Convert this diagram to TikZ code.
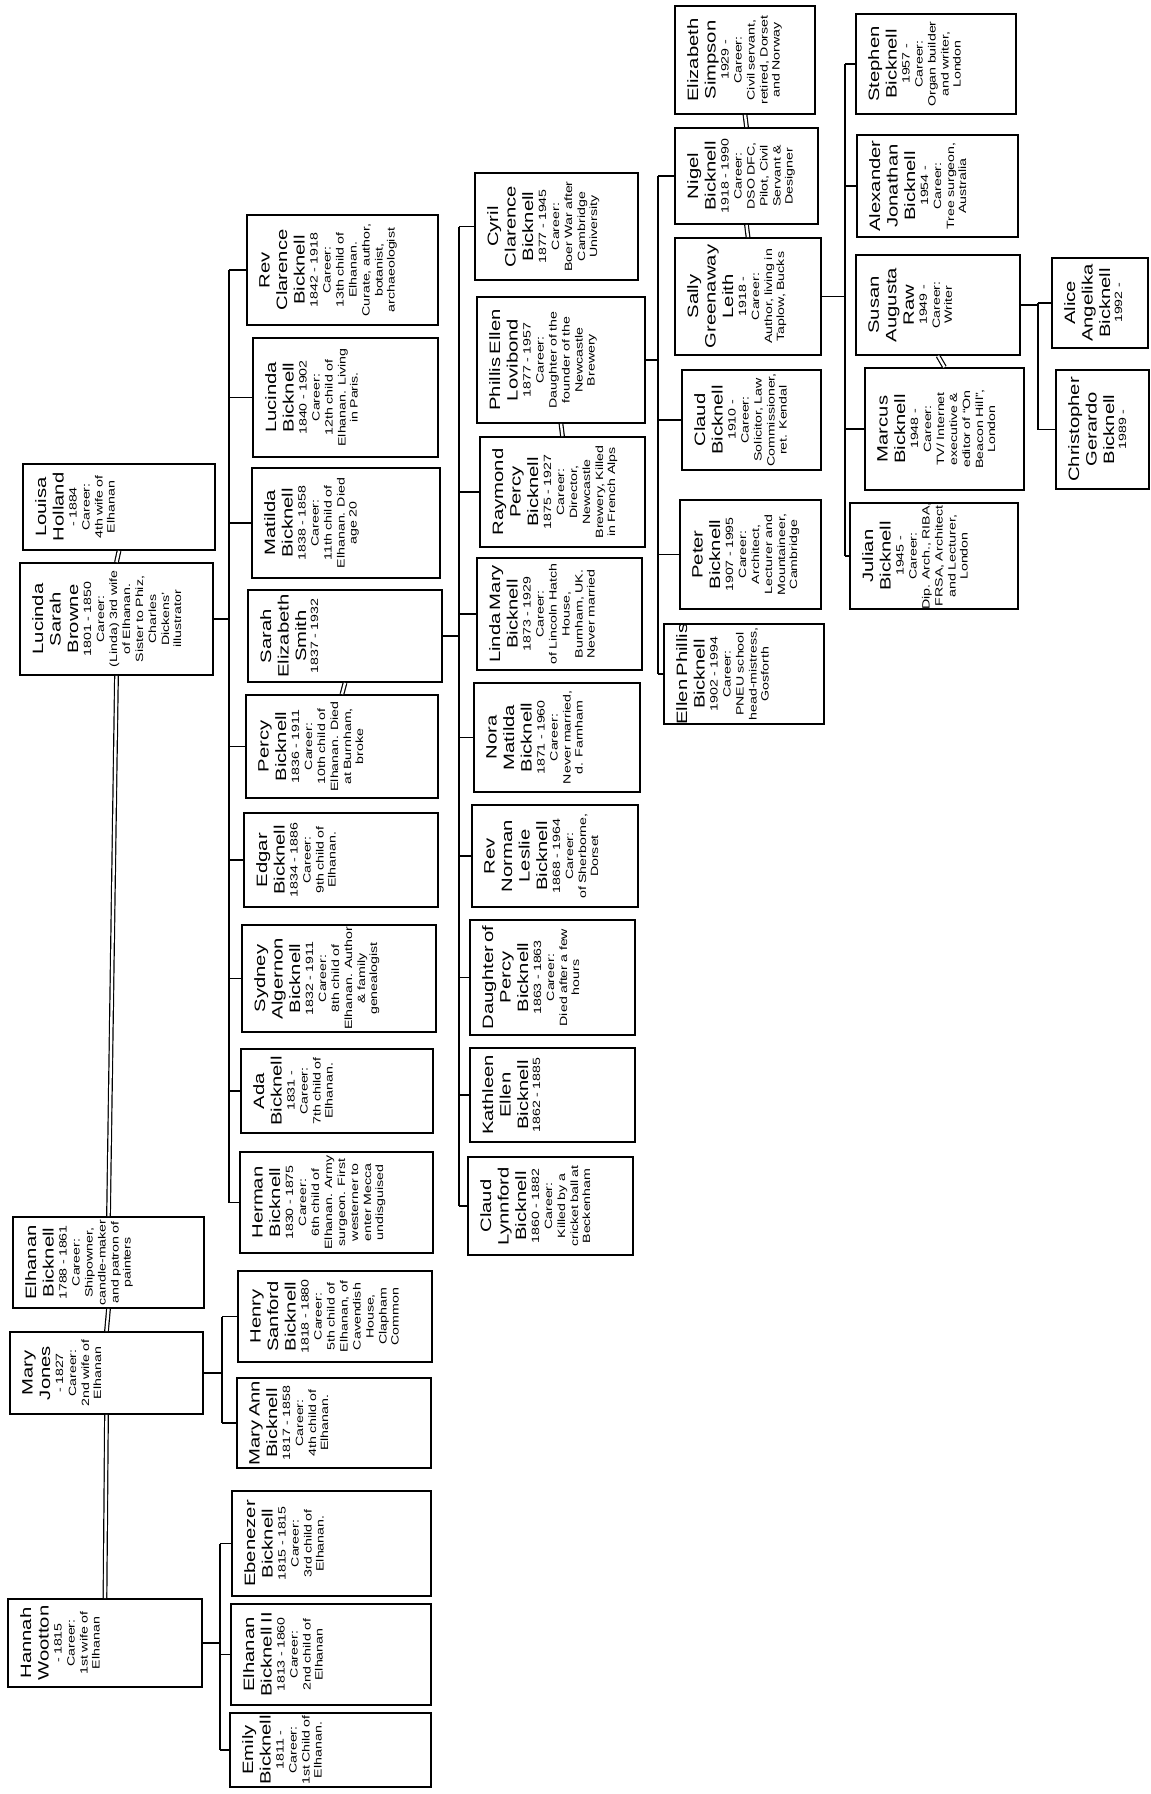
\documentclass[tikz,border=0pt]{standalone}
\usepackage{fontspec}
\setmainfont{Liberation Sans}[FakeStretch=1.35]
\usepackage{tikz}
\usetikzlibrary{fit}

\newcommand{\namefont}{\fontsize{15}{17.5}\selectfont}
\newcommand{\detailfont}{\fontsize{10.5}{13}\selectfont}
% one person: box from two corners, rotated text at its left side
\newcommand{\person}[5]{%
	\node[pbox, fit={#2 #3}] (#1) {};
	\node[ptext] (#1txt) at (#1.west) {\namefont #4\par\detailfont #5};
}

\begin{document}
\begin{tikzpicture}[x=1pt, y=-1pt,
		pbox/.style={draw, line width=1.8pt, inner sep=0pt},
		ptext/.style={rotate=90, anchor=north, text width=130pt, align=center, inner xsep=0pt, inner ysep=13pt},
		conn/.style={line width=1.3pt},
		wed/.style={double, double distance=2.4pt, line width=1.2pt}]
			\fill[white] (0,0) rectangle (1151,1794);
			\useasboundingbox (0,0) rectangle (1151,1794);
			% Elhanan and his four wives
			\person{louisa}{(23,464)}{(215,550)}{Louisa\\Holland}{- 1884\\Career:\\4th wife of\\Elhanan}
			\person{lsb}{(20,563)}{(213,675)}{Lucinda\\Sarah\\Browne}{1801 - 1850\\Career:\\(Linda) 3rd wife\\of Elhanan.\\Sister to Phiz,\\Charles\\Dickens'\\illustrator}
			\person{elhanan}{(13,1217)}{(204,1308)}{Elhanan\\Bicknell}{1788 - 1861\\Career:\\Shipowner,\\candle-maker\\and patron of\\painters}
			\person{maryjones}{(10,1332)}{(203,1414)}{Mary\\Jones}{- 1827\\Career:\\2nd wife of\\Elhanan}
			\person{hannah}{(8,1599)}{(202,1687)}{Hannah\\Wootton}{- 1815\\Career:\\1st wife of\\Elhanan}
			% children of Elhanan
			\person{clarence}{(247,215)}{(438,325)}{Rev\\Clarence\\Bicknell}{1842 - 1918\\Career:\\13th child of\\Elhanan.\\Curate, author,\\botanist,\\archaeologist}
			\person{lucinda}{(253,338)}{(438,457)}{Lucinda\\Bicknell}{1840 - 1902\\Career:\\12th child of\\Elhanan. Living\\in Paris.}
			\person{matilda}{(252,468)}{(440,578)}{Matilda\\Bicknell}{1838 - 1858\\Career:\\11th child of\\Elhanan. Died\\age 20}
			\person{sarah}{(248,590)}{(442,682)}{Sarah\\Elizabeth\\Smith}{1837 - 1932}
			\person{percy}{(246,695)}{(438,798)}{Percy\\Bicknell}{1836 - 1911\\Career:\\10th child of\\Elhanan. Died\\at Burnham,\\broke}
			\person{edgar}{(244,813)}{(438,907)}{Edgar\\Bicknell}{1834 - 1886\\Career:\\9th child of\\Elhanan.}
			\person{sydney}{(242,925)}{(436,1032)}{Sydney\\Algernon\\Bicknell}{1832 - 1911\\Career:\\8th child of\\Elhanan. Author\\\& family\\genealogist}
			\person{ada}{(241,1049)}{(433,1133)}{Ada\\Bicknell}{1831 -\\Career:\\7th child of\\Elhanan.}
			\person{herman}{(240,1152)}{(433,1253)}{Herman\\Bicknell}{1830 - 1875\\Career:\\6th child of\\Elhanan. Army\\surgeon. First\\westerner to\\enter Mecca\\undisguised}
			\person{henry}{(238,1271)}{(432,1362)}{Henry\\Sanford\\Bicknell}{1818 - 1880\\Career:\\5th child of\\Elhanan, of\\Cavendish\\House,\\Clapham\\Common}
			\person{maryann}{(237,1378)}{(431,1468)}{Mary Ann\\Bicknell}{1817 - 1858\\Career:\\4th child of\\Elhanan.}
			\person{ebenezer}{(232,1491)}{(431,1596)}{Ebenezer\\Bicknell}{1815 - 1815\\Career:\\3rd child of\\Elhanan.}
			\person{elhanantwo}{(231,1604)}{(431,1705)}{Elhanan\\Bicknell II}{1813 - 1860\\Career:\\2nd child of\\Elhanan}
			\person{emily}{(230,1713)}{(431,1787)}{Emily\\Bicknell}{1811 -\\Career:\\1st Child of\\Elhanan.}
			% children of Percy and Sarah
			\person{cyril}{(475,173)}{(638,280)}{Cyril\\Clarence\\Bicknell}{1877 - 1945\\Career:\\Boer War after\\Cambridge\\University}
			\person{phillis}{(477,297)}{(645,423)}{Phillis Ellen\\Lovibond}{1877 - 1957\\Career:\\Daughter of the\\founder of the\\Newcastle\\Brewery}
			\person{raymond}{(480,437)}{(645,547)}{Raymond\\Percy\\Bicknell}{1875 - 1927\\Career:\\Director,\\Newcastle\\Brewery, Killed\\in French Alps}
			\person{linda}{(477,558)}{(642,670)}{Linda Mary\\Bicknell}{1873 - 1929\\Career:\\of Lincoln Hatch\\House,\\Burnham, UK.\\Never married}
			\person{nora}{(474,683)}{(640,792)}{Nora\\Matilda\\Bicknell}{1871 - 1960\\Career:\\Never married,\\d. Farnham}
			\person{norman}{(472,805)}{(638,907)}{Rev\\Norman\\Leslie\\Bicknell}{1868 - 1964\\Career:\\of Sherborne,\\Dorset}
			\person{daughter}{(470,920)}{(635,1035)}{Daughter of\\Percy\\Bicknell}{1863 - 1863\\Career:\\Died after a few\\hours}
			\person{kathleen}{(470,1048)}{(635,1142)}{Kathleen\\Ellen\\Bicknell}{1862 - 1885}
			\person{claudl}{(468,1157)}{(633,1255)}{Claud\\Lynnford\\Bicknell}{1860 - 1882\\Career:\\Killed by a\\cricket ball at\\Beckenham}
			% children of Raymond and Phillis
			\person{elizabeth}{(675,6)}{(815,114)}{Elizabeth\\Simpson}{1929 -\\Career:\\Civil servant,\\retired, Dorset\\and Norway}
			\person{nigel}{(675,128)}{(818,224)}{Nigel\\Bicknell}{1918 - 1990\\Career:\\DSO DFC,\\Pilot, Civil\\Servant \&\\Designer}
			\person{sally}{(675,238)}{(821,355)}{Sally\\Greenaway\\Leith}{1918 -\\Career:\\Author, living in\\Taplow, Bucks}
			\person{claud}{(682,370)}{(821,470)}{Claud\\Bicknell}{1910 -\\Career:\\Solicitor, Law\\Commissioner,\\ret. Kendal}
			\person{peter}{(680,500)}{(821,609)}{Peter\\Bicknell}{1907 - 1995\\Career:\\Architect,\\Lecturer and\\Mountaineer,\\Cambridge}
			\person{ellen}{(664,624)}{(824,724)}{Ellen Phillis\\Bicknell}{1902 - 1994\\Career:\\PNEU school\\head-mistress,\\Gosforth}
			% children of Nigel and Sally
			\person{stephen}{(856,14)}{(1016,114)}{Stephen\\Bicknell}{1957 -\\Career:\\Organ builder\\and writer,\\London}
			\person{alexander}{(857,135)}{(1018,237)}{Alexander\\Jonathan\\Bicknell}{1954 -\\Career:\\Tree surgeon,\\Australia}
			\person{susan}{(856,255)}{(1020,355)}{Susan\\Augusta\\Raw}{1949 -\\Career:\\Writer}
			\person{marcus}{(865,368)}{(1024,490)}{Marcus\\Bicknell}{1948 -\\Career:\\TV/ Internet\\executive \&\\editor of ``On\\Beacon Hill'',\\London}
			\person{julian}{(850,503)}{(1018,609)}{Julian\\Bicknell}{1945 -\\Career:\\Dip. Arch., RIBA,\\FRSA, Architect\\and Lecturer,\\London}
			% children of Marcus and Susan
			\person{alice}{(1052,258)}{(1148,348)}{Alice\\Angelika\\Bicknell}{1992 -}
			\person{christopher}{(1056,370)}{(1149,489)}{Christopher\\Gerardo\\Bicknell}{1989 -}
			% marriages
			\draw[wed] (louisa.south) -- (lsb.north);
			\draw[wed] (lsb.south) -- (elhanan.north);
			\draw[wed] (elhanan.south) -- (maryjones.north);
			\draw[wed] (maryjones.south) -- (hannah.north);
			\draw[wed] (sarah.south) -- (percy.north);
			\draw[wed] (phillis.south) -- (raymond.north);
			\draw[wed] (elizabeth.south) -- (nigel.north);
			\draw[wed] (nigel.south) -- (sally.north);
			\draw[wed] (susan.south) -- (marcus.north);
			% brackets
			\coordinate (brlsb) at (229,0);
			\coordinate (brmary) at (222,0);
			\coordinate (brhannah) at (220,0);
			\coordinate (brpercy) at (459,0);
			\coordinate (brraymond) at (658,0);
			\coordinate (brnigel) at (845,0);
			\coordinate (brmarcus) at (1038,0);
			\foreach \c in {clarence,lucinda,matilda,percy,edgar,sydney,ada,herman}
				\draw[conn] (\c.west) -- (\c.west -| brlsb);
			\draw[conn] (clarence.west -| brlsb) -- (herman.west -| brlsb);
			\draw[conn] (lsb.east) -- (lsb.east -| brlsb);
			\foreach \c in {henry,maryann}
				\draw[conn] (\c.west) -- (\c.west -| brmary);
			\draw[conn] (henry.west -| brmary) -- (maryann.west -| brmary);
			\draw[conn] (maryjones.east) -- (maryjones.east -| brmary);
			\foreach \c in {ebenezer,elhanantwo,emily}
				\draw[conn] (\c.west) -- (\c.west -| brhannah);
			\draw[conn] (ebenezer.west -| brhannah) -- (emily.west -| brhannah);
			\draw[conn] (hannah.east) -- (hannah.east -| brhannah);
			\foreach \c in {cyril,raymond,linda,nora,norman,daughter,kathleen,claudl}
				\draw[conn] (\c.west) -- (\c.west -| brpercy);
			\draw[conn] (cyril.west -| brpercy) -- (claudl.west -| brpercy);
			\draw[conn] (sarah.east) -- (sarah.east -| brpercy);
			\foreach \c in {nigel,claud,peter,ellen}
				\draw[conn] (\c.west) -- (\c.west -| brraymond);
			\draw[conn] (nigel.west -| brraymond) -- (ellen.west -| brraymond);
			\draw[conn] (phillis.east) -- (phillis.east -| brraymond);
			\foreach \c in {stephen,alexander,marcus,julian}
				\draw[conn] (\c.west) -- (\c.west -| brnigel);
			\draw[conn] (stephen.west -| brnigel) -- (julian.west -| brnigel);
			\draw[conn] (sally.east) -- (sally.east -| brnigel);
			\foreach \c in {alice,christopher}
				\draw[conn] (\c.west) -- (\c.west -| brmarcus);
			\draw[conn] (alice.west -| brmarcus) -- (christopher.west -| brmarcus);
			\draw[conn] (susan.east) -- (susan.east -| brmarcus);
\end{tikzpicture}
\end{document}
